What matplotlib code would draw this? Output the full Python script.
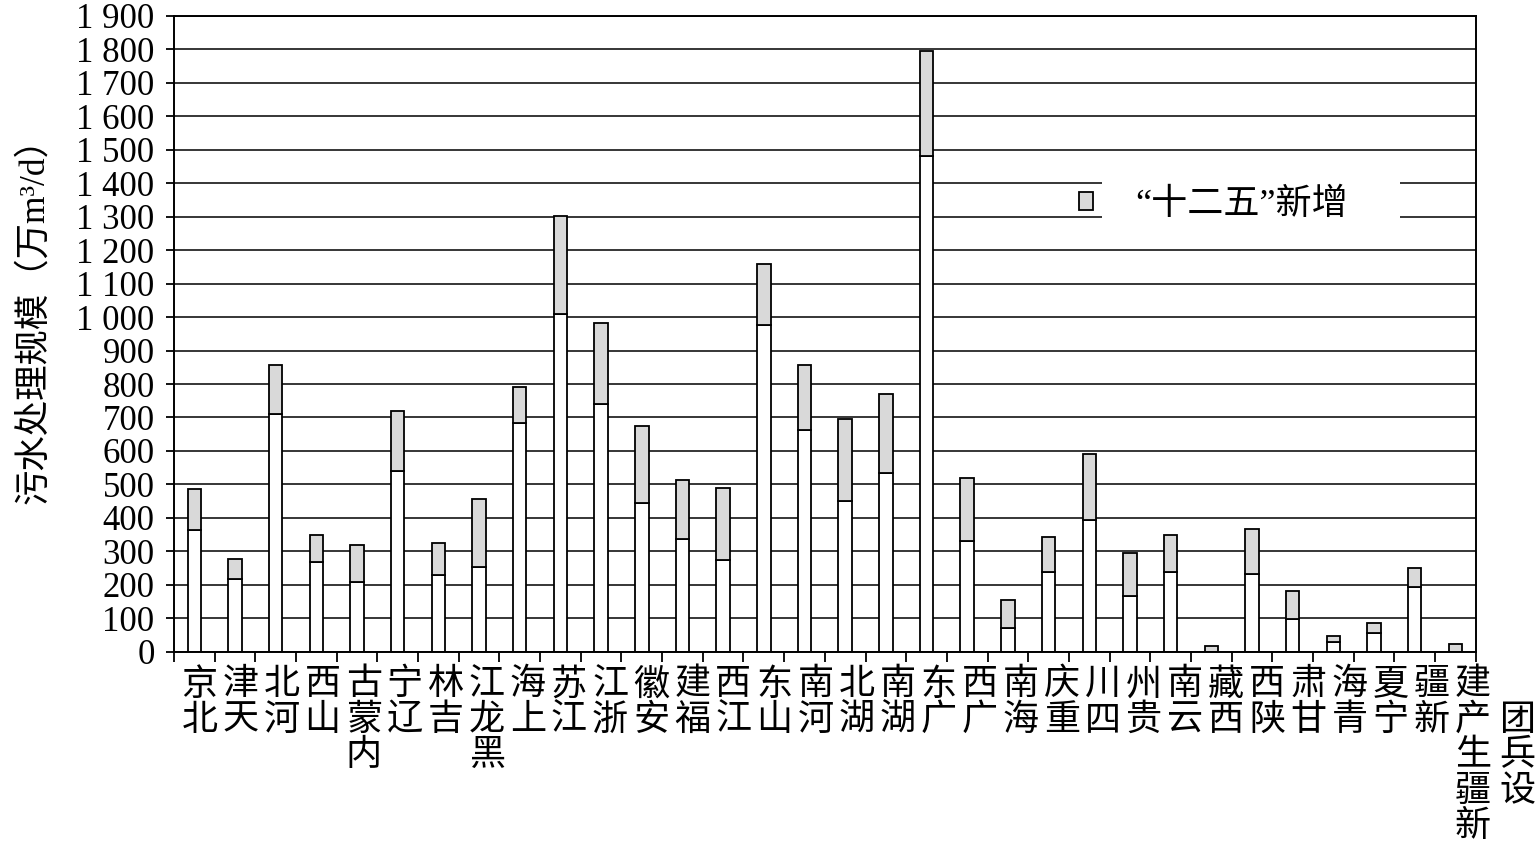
import numpy as np
import matplotlib
matplotlib.use('Agg')
import matplotlib.pyplot as plt
from matplotlib.patches import Rectangle
from matplotlib.ticker import FixedLocator, FuncFormatter

plt.rcParams['font.family'] = ['Liberation Serif', 'Noto Sans CJK SC']

provinces = ['北京', '天津', '河北', '山西', '内蒙古', '辽宁', '吉林', '黑龙江',
             '上海', '江苏', '浙江', '安徽', '福建', '江西', '山东', '河南',
             '湖北', '湖南', '广东', '广西', '海南', '重庆', '四川', '贵州',
             '云南', '西藏', '陕西', '甘肃', '青海', '宁夏', '新疆', '新疆生产建设兵团']
# capacity before the 12th five-year plan, 10^4 m3/d
base_cap = [364, 218, 710, 269, 209, 539, 228, 254,
            682, 1009, 740, 443, 337, 273, 975, 663,
            449, 534, 1481, 331, 71, 237, 393, 167,
            238, 0, 233, 99, 28, 57, 192, 0]
# added during the 12th five-year plan
new_cap = [123, 59, 147, 81, 110, 181, 98, 202,
           108, 294, 242, 233, 175, 217, 185, 193,
           247, 237, 314, 188, 83, 105, 199, 129,
           110, 18, 133, 81, 19, 28, 58, 24]
yticks = list(range(0, 2000, 100))

fig = plt.figure(figsize=(15.36, 8.46), dpi=100)
ax = fig.add_axes([0.1133, 0.2297, 0.8474, 0.7514])

x = np.arange(len(provinces))
ax.bar(x, base_cap, width=0.33, color='white', edgecolor='black', linewidth=1.3, zorder=2)
new_bars = ax.bar(x, new_cap, bottom=base_cap, width=0.33, color='#d9d9d9',
                  edgecolor='black', linewidth=1.3, zorder=2)

ax.set_xlim(-0.5, len(provinces) - 0.5)
ax.set_ylim(0, 1900)
ax.yaxis.set_major_locator(FixedLocator(yticks))
ax.yaxis.set_major_formatter(FuncFormatter(
    lambda v, p: f'{int(v) // 1000} {int(v) % 1000:03d}' if v >= 1000 else f'{int(v)}'))
ax.set_xticks(np.arange(len(provinces) + 1) - 0.5)
ax.set_xticklabels([])
ax.tick_params(axis='x', direction='out', length=7.5, width=1.3)
ax.tick_params(axis='y', direction='out', length=6, width=1.3, pad=8, labelsize=25)

ax.yaxis.grid(True, color='black', linewidth=1.1)
ax.set_axisbelow(True)
for s in ax.spines.values():
    s.set_linewidth(1.4)

# stacked vertical category labels (characters upright, read bottom to top)
tr = ax.get_xaxis_transform()
pitch = 35.5
for i, name in enumerate(provinces):
    dx = 5 + 0.4 * i
    if len(name) > 5:
        cols = [(name[:5], dx, 0), (name[5:], dx + 45, 1)]
    else:
        cols = [(name, dx, 0)]
    for txt, cx, shift in cols:
        for k, ch in enumerate(txt[::-1]):
            ax.annotate(ch, xy=(i, 0), xycoords=tr,
                        xytext=(cx, -34 - (k + shift) * pitch), textcoords='offset pixels',
                        ha='center', va='center', fontsize=26, annotation_clip=False)

ax.set_ylabel('污水处理规模（万m³/d）', fontsize=25.5)
ax.yaxis.set_label_coords(-0.1076, 0.535)
ax.yaxis.label.set_va('center')

# legend area masks the gridlines
ax.add_patch(Rectangle((0.713, 0.666), 0.229, 0.09, transform=ax.transAxes,
                       facecolor='white', edgecolor='none', zorder=1))
ax.legend(handles=[new_bars], labels=['“十二五”新增'], loc='center left',
          bbox_to_anchor=(0.6952, 0.7025), frameon=False, fontsize=26,
          handlelength=0.4, handleheight=0.4, handletextpad=1.15,
          borderpad=0, borderaxespad=0)

fig.savefig('out.png', dpi=100)
